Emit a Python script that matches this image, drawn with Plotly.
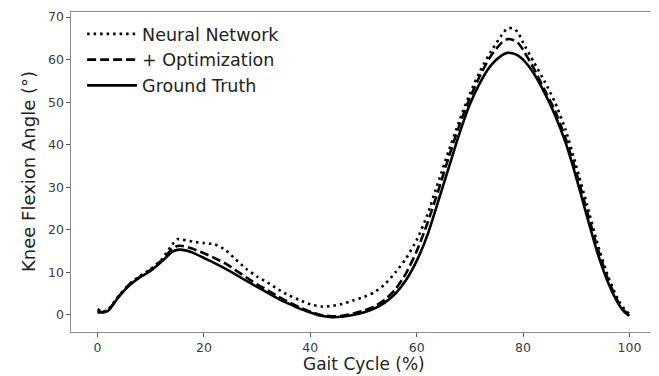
import plotly.graph_objects as go

gait = [0, 1, 2, 4, 6, 8, 10, 12, 14, 15, 16, 18, 20, 22, 24, 26, 28, 30, 32, 34, 36, 38, 40, 42, 44, 46, 48, 50,
        52, 54, 56, 58, 60, 62, 64, 66, 68, 70, 72, 74, 76, 77, 78, 79, 80, 82, 84, 86, 88, 90, 92, 94, 96, 98, 99, 100]

neural_network = [1.4, 0.8, 1.3, 4.5, 7.3, 9.2, 10.8, 13.0, 16.5, 17.8, 17.7, 17.2, 16.9, 16.6, 15.3, 13.0, 10.8, 9.0, 7.6, 6.0, 4.6, 3.5, 2.5, 2.0, 2.1, 2.6, 3.4, 4.2,
                  5.3, 7.2, 10.0, 13.3, 17.6, 23.5, 31.0, 38.5, 45.5, 52.0, 57.5, 62.0, 65.8, 67.3, 67.4, 66.5, 64.0, 59.5, 55.0, 50.0, 43.5, 35.0, 26.0, 16.8, 9.0, 3.3, 1.5, 0.2]

optimization = [0.8, 0.7, 1.1, 4.4, 7.2, 9.0, 10.6, 12.8, 15.5, 16.2, 16.2, 15.5, 14.5, 13.4, 12.1, 10.5, 8.8, 7.2, 5.8, 4.3, 3.0, 1.8, 0.8, 0.0, -0.3, -0.2, 0.3, 1.0,
                2.0, 3.6, 6.0, 9.8, 15.0, 21.5, 29.0, 37.0, 44.5, 51.0, 56.5, 61.0, 64.0, 64.8, 64.7, 64.0, 62.3, 58.0, 53.0, 48.0, 41.5, 33.5, 24.5, 15.8, 8.3, 2.8, 1.0, 0.0]

ground_truth = [0.6, 0.6, 1.0, 4.3, 7.0, 8.9, 10.4, 12.5, 14.8, 15.3, 15.3, 14.6, 13.4, 12.2, 10.9, 9.5, 8.0, 6.6, 5.2, 3.8, 2.6, 1.5, 0.6, -0.2, -0.5, -0.4, 0.0, 0.6,
                1.5, 2.9, 5.0, 8.2, 12.7, 18.7, 26.5, 34.5, 42.5, 49.5, 54.8, 58.7, 61.0, 61.6, 61.5, 61.0, 60.0, 56.8, 52.3, 47.0, 40.5, 32.3, 23.3, 14.6, 7.6, 2.5, 0.8, -0.2]

x_ticks = [0, 20, 40, 60, 80, 100]
y_ticks = [0, 10, 20, 30, 40, 50, 60, 70]

series = [
    ("Neural Network", neural_network, "2.5px,4px"),
    ("+ Optimization", optimization, "9px,4px"),
    ("Ground Truth", ground_truth, "solid"),
]

fig = go.Figure()
for name, vals, dash in series:
    fig.add_trace(go.Scatter(x=gait, y=vals, mode="lines", name=name,
                             line=dict(color="black", width=2.6, dash=dash, shape="spline", smoothing=0.6)))

axis_common = dict(showline=True, linecolor="#8c8c8c", linewidth=1.3, mirror=True,
                   ticks="outside", ticklen=3.5, tickwidth=1.2, tickcolor="#555",
                   showgrid=False, zeroline=False, automargin=False,
                   tickfont=dict(family="DejaVu Sans", size=12.5, color="#3a3a3a"))

fig.update_layout(
    width=651, height=368,
    margin=dict(l=63, r=3, t=4, b=44),
    paper_bgcolor="white", plot_bgcolor="white",
    font=dict(family="DejaVu Sans", color="#222"),
    showlegend=True,
    legend=dict(x=0.019, y=0.9875, xanchor="left", yanchor="top",
                bgcolor="rgba(0,0,0,0)", borderwidth=0,
                font=dict(family="DejaVu Sans", size=17.5, color="#222"),
                tracegroupgap=0, itemwidth=50),
    xaxis=dict(range=[-5, 105], tickvals=x_ticks, **axis_common),
    yaxis=dict(range=[-4.0, 71.2], tickvals=y_ticks, **axis_common),
    annotations=[
        dict(text="Gait Cycle (%)", x=0.5, y=-0.134, xref="paper", yref="paper",
             xanchor="center", yanchor="bottom", showarrow=False, borderpad=0,
             font=dict(family="DejaVu Sans", size=17, color="#222")),
        dict(text="Knee Flexion Angle (°)", x=-0.0735, y=0.5, xref="paper", yref="paper",
             xanchor="center", yanchor="middle", showarrow=False, textangle=-90,
             font=dict(family="DejaVu Sans", size=18, color="#222")),
    ],
)

fig.write_html("out.html")
